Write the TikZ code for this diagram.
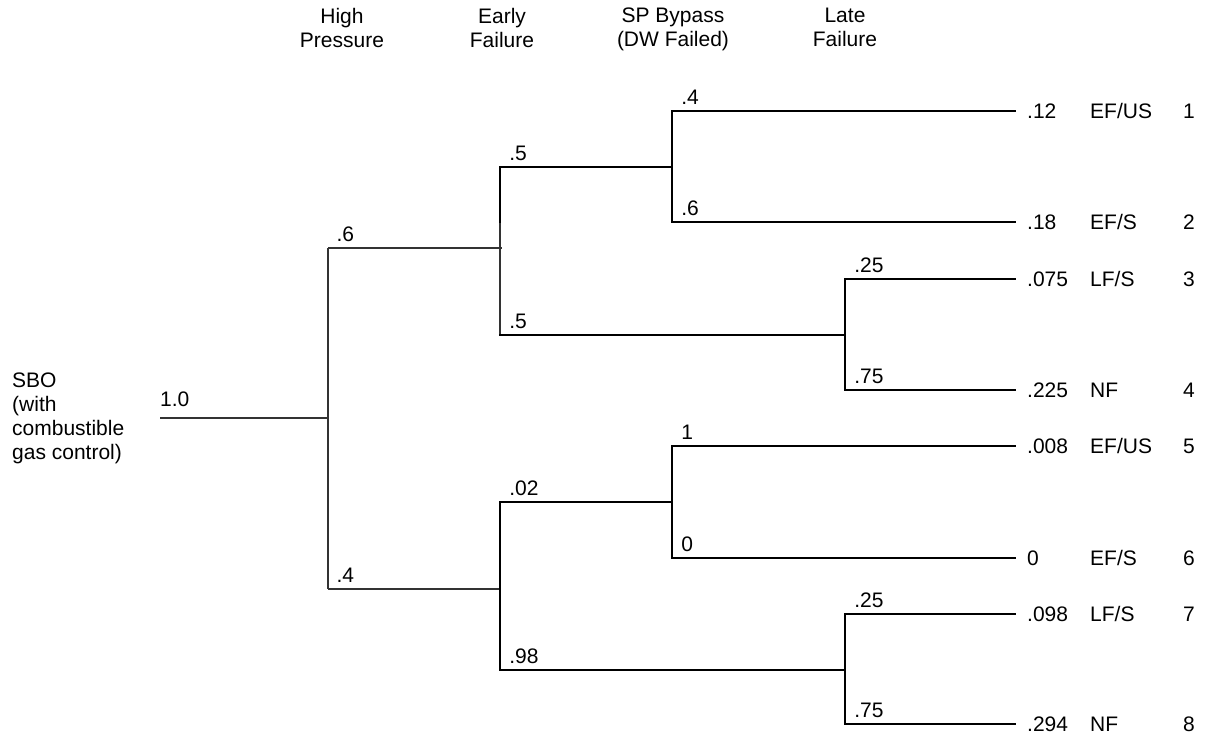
\documentclass[tikz,border=0pt]{standalone}
\usepackage{fontspec}
\setmainfont{Liberation Sans}
\usetikzlibrary{calc}

\begin{document}
\begin{tikzpicture}[x=1pt, y=-1pt,
		      font=\fontsize{21}{24}\selectfont,
		      fine/.style = {line width=1.3pt, draw=black!80},
		      bold/.style = {line width=2.8pt, draw=black, line cap=rect},
		      prob/.style = {anchor=base west, inner sep=0pt, xshift=8pt, yshift=7pt},
		      head/.style = {align=center, anchor=north, inner sep=0pt},
		      tail/.style = {anchor=base west, inner sep=0pt, yshift=-7pt} ]

\useasboundingbox (0,0) rectangle (1205,734);

% column headings
\node (h-hp) [head] at (342,8) {High\\Pressure};
\node (h-ef) [head] at (502,8) {Early\\Failure};
\node (h-sp) [head] at (673,8) {SP Bypass\\(DW Failed)};
\node (h-lf) [head] at (845,8) {Late\\Failure};

% initiating event
\node (sbo) [align=left, anchor=north west, inner sep=0pt] at (12,373)
      {SBO\\(with\\combustible\\gas control)};
\node (p0) [anchor=base west, inner sep=0pt] at (160,406) {1.0};

% junction points
\coordinate (start)  at (160,418);
\coordinate (hp-y)   at (328,248);
\coordinate (hp-n)   at (328,589);
\coordinate (ef-a)   at (502,248);
\coordinate (ef-b)   at (500,589);
\coordinate (ef-a-y) at (500,167);
\coordinate (ef-a-m) at (500,223);
\coordinate (ef-a-n) at (500,335);
\coordinate (ef-b-y) at (500,502);
\coordinate (ef-b-n) at (500,670);
\coordinate (sp-a)   at (672,167);
\coordinate (sp-b)   at (672,502);
\coordinate (lf-a)   at (845,335);
\coordinate (lf-b)   at (845,670);

% high pressure
\draw[fine] (start) -- (start -| hp-y);
\draw[fine] (hp-y) -- (hp-n);
\draw[fine] (hp-y) node[prob] {.6} -- (ef-a);
\draw[fine] (hp-n) node[prob] {.4} -- (ef-b);

% early failure
\draw[bold] (ef-a-y) -- (ef-a-m);
\draw[fine] (ef-a-m) -- (ef-a-n);
\draw[bold] (ef-b-y) -- (ef-b-n);
\draw[bold] (ef-a-y) node[prob] {.5}  -- (sp-a);
\draw[bold] (ef-a-n) node[prob] {.5}  -- (lf-a);
\draw[bold] (ef-b-y) node[prob] {.02} -- (sp-b);
\draw[bold] (ef-b-n) node[prob] {.98} -- (lf-b);

% end states
\foreach \i/\x/\y/\q/\p/\s in {1/672/111/.4/.12/{EF/US}, 2/672/222/.6/.18/{EF/S},
        3/845/279/.25/.075/{LF/S}, 4/845/390/.75/.225/NF,
        5/672/446/1/.008/{EF/US}, 6/672/558/0/0/{EF/S},
        7/845/614/.25/.098/{LF/S}, 8/845/724/.75/.294/NF}
{
  \coordinate (b\i) at (\x,\y);
  \coordinate (e\i) at (1015,\y);
  \draw[bold] (b\i) node[prob] {\q} -- (e\i);
  \node (p\i) [tail] at (1027,\y) {\p};
  \node (s\i) [tail] at (1090,\y) {\s};
  \node (n\i) [tail] at (1183,\y) {\i};
}

% late failure / bypass splits
\draw[bold] (b1) -- (b2);
\draw[bold] (b3) -- (b4);
\draw[bold] (b5) -- (b6);
\draw[bold] (b7) -- (b8);
\end{tikzpicture}
\end{document}
